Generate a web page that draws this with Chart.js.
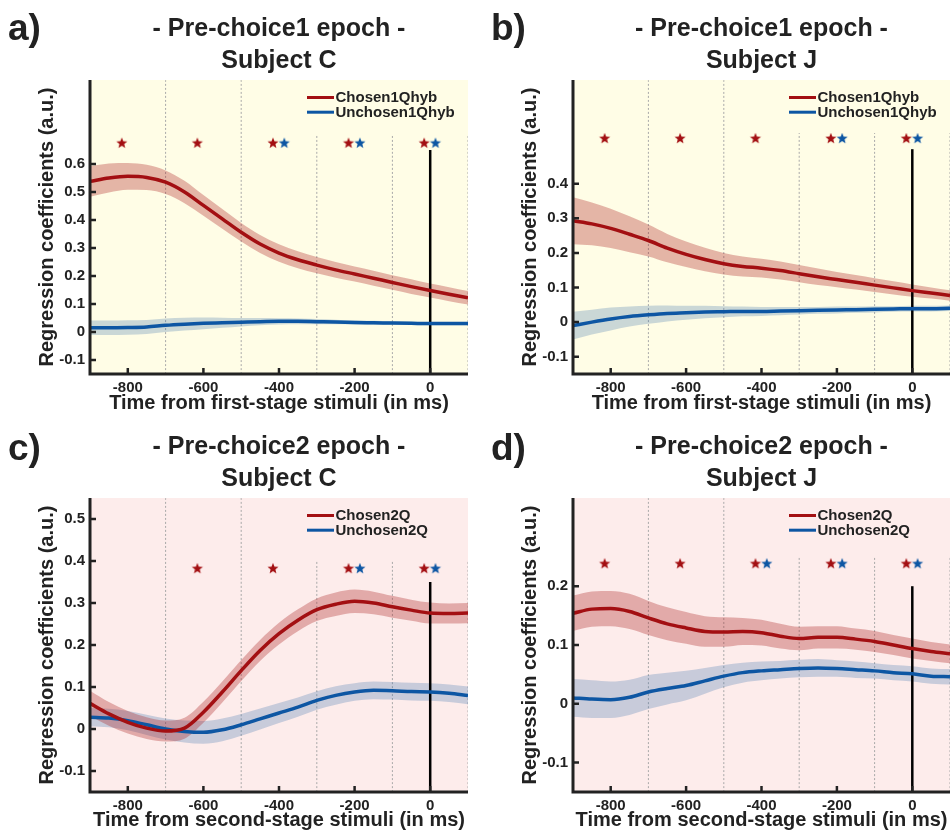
<!DOCTYPE html>
<html>
<head>
<meta charset="utf-8">
<script src="https://cdn.jsdelivr.net/npm/chart.js@4.4.0/dist/chart.umd.min.js"></script>
<style>
  body { margin: 0; background: #fff; width: 950px; height: 835px; position: relative; overflow: hidden; }
  .panel { position: absolute; }
  .panel canvas { display: block; }
</style>
</head>
<body>
<div class="panel" style="left:0;top:0"><canvas id="chartA" width="475" height="418"></canvas></div>
<div class="panel" style="left:475px;top:0"><canvas id="chartB" width="475" height="418"></canvas></div>
<div class="panel" style="left:0;top:418px"><canvas id="chartC" width="475" height="417"></canvas></div>
<div class="panel" style="left:475px;top:418px"><canvas id="chartD" width="475" height="417"></canvas></div>

<script>
// time axis (ms), sampled every 50 ms
const timeMs = [-900, -850, -800, -750, -700, -650, -600, -550, -500, -450, -400,
                -350, -300, -250, -200, -150, -100, -50, 0, 50, 100];

// Pre-choice1, subject C
const chosen1C     = [0.538, 0.550, 0.556, 0.552, 0.535, 0.500, 0.452, 0.404, 0.356, 0.314, 0.282,
                      0.258, 0.239, 0.222, 0.207, 0.192, 0.177, 0.162, 0.148, 0.135, 0.122];
const chosen1CErr  = [0.055, 0.052, 0.048, 0.045, 0.042, 0.040, 0.037, 0.035, 0.033, 0.032, 0.031,
                      0.030, 0.029, 0.028, 0.027, 0.027, 0.026, 0.026, 0.025, 0.025, 0.024];
const unchosen1C    = [0.015, 0.015, 0.016, 0.018, 0.024, 0.028, 0.031, 0.033, 0.035, 0.037, 0.038,
                       0.038, 0.037, 0.036, 0.034, 0.033, 0.032, 0.031, 0.030, 0.030, 0.030];
const unchosen1CErr = [0.026, 0.026, 0.026, 0.025, 0.024, 0.023, 0.021, 0.018, 0.015, 0.013, 0.011,
                       0.010, 0.009, 0.008, 0.007, 0.007, 0.006, 0.006, 0.006, 0.006, 0.006];

// Pre-choice1, subject J
const chosen1J     = [0.293, 0.284, 0.271, 0.254, 0.236, 0.214, 0.196, 0.181, 0.169, 0.161, 0.156,
                      0.149, 0.140, 0.131, 0.123, 0.115, 0.107, 0.099, 0.091, 0.084, 0.077];
const chosen1JErr  = [0.068, 0.062, 0.057, 0.052, 0.046, 0.041, 0.037, 0.034, 0.031, 0.029, 0.027,
                      0.026, 0.025, 0.024, 0.022, 0.021, 0.020, 0.019, 0.018, 0.016, 0.015];
const unchosen1J    = [-0.010, 0.000, 0.009, 0.016, 0.021, 0.025, 0.027, 0.029, 0.030, 0.031, 0.031,
                       0.032, 0.033, 0.034, 0.035, 0.036, 0.037, 0.038, 0.039, 0.039, 0.040];
const unchosen1JErr = [0.040, 0.036, 0.033, 0.029, 0.026, 0.023, 0.020, 0.018, 0.016, 0.014, 0.013,
                       0.012, 0.011, 0.010, 0.010, 0.009, 0.009, 0.008, 0.008, 0.008, 0.008];

// Pre-choice2, subject C
const chosen2C     = [0.061, 0.036, 0.016, 0.002, -0.005, 0.002, 0.040, 0.088, 0.139, 0.187, 0.227,
                      0.259, 0.284, 0.297, 0.304, 0.300, 0.291, 0.283, 0.276, 0.275, 0.276];
const chosen2CErr  = [0.030, 0.028, 0.027, 0.026, 0.025, 0.025, 0.025, 0.025, 0.025, 0.025, 0.026,
                      0.026, 0.027, 0.028, 0.028, 0.027, 0.026, 0.025, 0.025, 0.024, 0.024];
const unchosen2C    = [0.028, 0.026, 0.020, 0.010, 0.000, -0.006, -0.008, -0.002, 0.010, 0.024, 0.038,
                       0.052, 0.068, 0.080, 0.088, 0.092, 0.091, 0.089, 0.088, 0.085, 0.080];
const unchosen2CErr = [0.022, 0.022, 0.023, 0.024, 0.025, 0.026, 0.027, 0.027, 0.026, 0.025, 0.024,
                       0.023, 0.022, 0.022, 0.021, 0.021, 0.021, 0.021, 0.021, 0.021, 0.021];

// Pre-choice2, subject J
const chosen2J     = [0.154, 0.161, 0.162, 0.157, 0.146, 0.136, 0.129, 0.123, 0.122, 0.123, 0.121,
                      0.115, 0.111, 0.113, 0.113, 0.110, 0.106, 0.100, 0.094, 0.089, 0.085];
const chosen2JErr  = [0.030, 0.030, 0.030, 0.030, 0.029, 0.028, 0.027, 0.026, 0.025, 0.023, 0.022,
                      0.021, 0.020, 0.019, 0.019, 0.018, 0.018, 0.017, 0.017, 0.016, 0.016];
const unchosen2J    = [0.010, 0.008, 0.007, 0.011, 0.020, 0.026, 0.031, 0.039, 0.047, 0.053, 0.056,
                       0.058, 0.060, 0.061, 0.060, 0.058, 0.056, 0.053, 0.051, 0.047, 0.046];
const unchosen2JErr = [0.032, 0.032, 0.031, 0.030, 0.029, 0.027, 0.025, 0.022, 0.019, 0.017, 0.016,
                       0.015, 0.015, 0.015, 0.014, 0.014, 0.013, 0.013, 0.013, 0.013, 0.013];

// 200 ms analysis windows and significance flags (1 = star)
const windowMs = [-800, -600, -400, -200, 0];
const sigChosen1C   = [1, 1, 1, 1, 1];
const sigUnchosen1C = [0, 0, 1, 1, 1];
const sigChosen1J   = [1, 1, 1, 1, 1];
const sigUnchosen1J = [0, 0, 0, 1, 1];
const sigChosen2C   = [0, 1, 1, 1, 1];
const sigUnchosen2C = [0, 0, 0, 1, 1];
const sigChosen2J   = [1, 1, 1, 1, 1];
const sigUnchosen2J = [0, 0, 1, 1, 1];

// window borders
const windowEdges = [-700, -500, -300, -100, 100];

const xTicks = [-800, -600, -400, -200, 0];
const yTicksA = [-0.1, 0, 0.1, 0.2, 0.3, 0.4, 0.5, 0.6];
const yTicksB = [-0.1, 0, 0.1, 0.2, 0.3, 0.4];
const yTicksC = [-0.1, 0, 0.1, 0.2, 0.3, 0.4, 0.5];
const yTicksD = [-0.1, 0, 0.1, 0.2];

const RED = '#a30f12';
const BLUE = '#0d56a3';
const RED_BAND = 'rgba(170, 30, 30, 0.32)';
const BLUE_BAND = 'rgba(50, 110, 170, 0.26)';
const INK = '#222';
const FONT = '"Liberation Sans", Arial, Helvetica, sans-serif';

Chart.defaults.font.family = FONT;
Chart.defaults.color = INK;

function starImage(color) {
   const c = document.createElement('canvas');
   c.width = 14; c.height = 14;
   const g = c.getContext('2d');
   g.fillStyle = color;
   g.beginPath();
   for (let i = 0; i < 10; i++) {
      const r = i % 2 ? 2.5 : 5.8;
      const ang = -Math.PI / 2 + i * Math.PI / 5;
      const px = 7 + r * Math.cos(ang), py = 7.5 + r * Math.sin(ang);
      if (i) g.lineTo(px, py); else g.moveTo(px, py);
   }
   g.closePath();
   g.fill();
   return c;
}
const redStar = starImage(RED);
const blueStar = starImage(BLUE);

// mean line plus shaded error band (upper fills down to lower)
function seriesSets(mean, err, color, band) {
   return [
      { data: timeMs.map((t, i) => ({ x: t, y: mean[i] })), borderColor: color, borderWidth: 3.5, fill: false, order: 0 },
      { data: timeMs.map((t, i) => ({ x: t, y: mean[i] + err[i] })), borderWidth: 0, borderColor: 'transparent', backgroundColor: band, fill: '+1', order: 2 },
      { data: timeMs.map((t, i) => ({ x: t, y: mean[i] - err[i] })), borderWidth: 0, borderColor: 'transparent', fill: false, order: 2 }
   ];
}

function starSet(sig, offset, rowY, img) {
   return {
      data: windowMs.filter((w, i) => sig[i]).map(w => ({ x: w + offset, y: rowY })),
      showLine: false, pointStyle: img, pointRadius: 5, order: 0
   };
}

// background, legend box, axes with inward ticks, panel letter
const panelDecor = {
   id: 'panelDecor',
   beforeDraw(chart, args, o) {
      const { ctx, chartArea: a } = chart;
      ctx.save();
      ctx.fillStyle = o.plotBg;
      ctx.fillRect(a.left, a.top, a.right - a.left, a.bottom - a.top);
      ctx.restore();
   },
   afterDatasetsDraw(chart, args, o) {
      const { ctx, chartArea: a } = chart;
      ctx.save();
      ctx.fillStyle = o.plotBg;
      ctx.fillRect(a.right - 168, a.top, 168, o.legendH);
      ctx.font = 'bold 15px ' + FONT;
      ctx.textBaseline = 'middle';
      o.legend.forEach((item, i) => {
         const y = a.top + 17.5 + i * 14.7;
         ctx.strokeStyle = item.color;
         ctx.lineWidth = 3;
         ctx.beginPath();
         ctx.moveTo(a.right - 161, y);
         ctx.lineTo(a.right - 134, y);
         ctx.stroke();
         ctx.fillStyle = INK;
         ctx.fillText(item.label, a.right - 132.5, y + 0.5);
      });
      ctx.restore();
   },
   afterDraw(chart, args, o) {
      const { ctx, chartArea: a, scales } = chart;
      ctx.save();
      ctx.strokeStyle = INK;
      ctx.lineWidth = 2.5;
      ctx.beginPath();
      scales.y.ticks.forEach(t => {
         const py = scales.y.getPixelForValue(t.value);
         ctx.moveTo(a.left, py); ctx.lineTo(a.left + 6, py);
      });
      scales.x.ticks.forEach(t => {
         const px = scales.x.getPixelForValue(t.value);
         ctx.moveTo(px, a.bottom); ctx.lineTo(px, a.bottom - 6);
      });
      ctx.stroke();
      ctx.lineWidth = 3;
      ctx.beginPath();
      ctx.moveTo(a.left, a.top);
      ctx.lineTo(a.left, a.bottom + 1.5);
      ctx.moveTo(a.left - 1.5, a.bottom);
      ctx.lineTo(a.right, a.bottom);
      ctx.stroke();
      ctx.fillStyle = INK;
      ctx.font = 'bold 37px ' + FONT;
      ctx.textBaseline = 'alphabetic';
      ctx.fillText(o.letter, o.letterX, o.letterY);
      ctx.restore();
   }
};

const tickLabel = v => String(Number(Number(v).toFixed(2)));

function makePanel(id, p) {
   const datasets = [].concat(
      seriesSets(p.chosen, p.chosenErr, RED, RED_BAND),
      seriesSets(p.unchosen, p.unchosenErr, BLUE, BLUE_BAND),
      [starSet(p.sigChosen, -16, p.starY, redStar), starSet(p.sigUnchosen, 14, p.starY, blueStar)],
      [{ data: [{ x: 0, y: p.yMin }, { x: 0, y: p.zeroTop }], borderColor: '#000', borderWidth: 2.5, order: 1 }],
      windowEdges.map(e => ({
         data: [{ x: e, y: p.yMin }, { x: e, y: p.yMax }],
         borderColor: '#a8a8a8', borderWidth: 1, borderDash: [2, 2], order: 3
      }))
   );

   return new Chart(document.getElementById(id), {
      type: 'line',
      data: { datasets },
      plugins: [panelDecor],
      options: {
         responsive: false,
         animation: false,
         events: [],
         layout: { autoPadding: false, padding: { top: 0, left: p.padLeft, right: p.padRight, bottom: 0 } },
         elements: { point: { radius: 0 }, line: { cubicInterpolationMode: 'monotone' } },
         scales: {
            x: {
               type: 'linear', min: -900, max: 100,
               grid: { display: true, drawOnChartArea: false, drawTicks: false, color: 'transparent' },
               border: { display: false },
               afterBuildTicks: s => { s.ticks = xTicks.map(v => ({ value: v })); },
               afterFit: s => { s.height = p.xHeight; },
               ticks: { autoSkip: false, maxRotation: 0, padding: 5, color: INK, font: { size: 15, weight: 'bold' }, callback: tickLabel },
               title: { display: true, text: p.xTitle, color: INK, font: { size: 20, weight: 'bold' }, padding: { top: 0, bottom: 3 } }
            },
            y: {
               type: 'linear', min: p.yMin, max: p.yMax,
               grid: { display: true, drawOnChartArea: false, drawTicks: false, color: 'transparent' },
               border: { display: false },
               afterBuildTicks: s => { s.ticks = p.yTicks.map(v => ({ value: v })); },
               afterFit: s => { s.width = p.yWidth; },
               ticks: { autoSkip: false, padding: 5, color: INK, font: { size: 15, weight: 'bold' }, callback: tickLabel },
               title: { display: true, text: 'Regression coefficients (a.u.)', color: INK, font: { size: 20, weight: 'bold' }, padding: { top: 0, bottom: 0 } }
            }
         },
         plugins: {
            legend: { display: false },
            tooltip: { enabled: false },
            title: {
               display: true, fullSize: false, text: p.title, color: INK,
               font: { size: 25, weight: 'bold', lineHeight: 32 / 25 },
               padding: { top: 13, bottom: 3 }
            },
            panelDecor: {
               plotBg: p.plotBg, legendH: p.legendH, legend: p.legend,
               letter: p.letter, letterX: p.letterX, letterY: p.letterY
            }
         }
      }
   });
}

const YELLOW = '#fffde6';
const PINK = '#fdeceb';

makePanel('chartA', {
   title: ['- Pre-choice1 epoch -', 'Subject C'], letter: 'a)', letterX: 8, letterY: 40,
   xTitle: 'Time from first-stage stimuli (in ms)',
   chosen: chosen1C, chosenErr: chosen1CErr, unchosen: unchosen1C, unchosenErr: unchosen1CErr,
   sigChosen: sigChosen1C, sigUnchosen: sigUnchosen1C, starY: 0.676, zeroTop: 0.65,
   yMin: -0.15, yMax: 0.9, yTicks: yTicksA,
   padLeft: 35, padRight: 7, yWidth: 55, xHeight: 44,
   plotBg: YELLOW, legendH: 55,
   legend: [{ label: 'Chosen1Qhyb', color: RED }, { label: 'Unchosen1Qhyb', color: BLUE }]
});

makePanel('chartB', {
   title: ['- Pre-choice1 epoch -', 'Subject J'], letter: 'b)', letterX: 16, letterY: 40,
   xTitle: 'Time from first-stage stimuli (in ms)',
   chosen: chosen1J, chosenErr: chosen1JErr, unchosen: unchosen1J, unchosenErr: unchosen1JErr,
   sigChosen: sigChosen1J, sigUnchosen: sigUnchosen1J, starY: 0.532, zeroTop: 0.5,
   yMin: -0.15, yMax: 0.7, yTicks: yTicksB,
   padLeft: 43, padRight: 0, yWidth: 55, xHeight: 44,
   plotBg: YELLOW, legendH: 53,
   legend: [{ label: 'Chosen1Qhyb', color: RED }, { label: 'Unchosen1Qhyb', color: BLUE }]
});

makePanel('chartC', {
   title: ['- Pre-choice2 epoch -', 'Subject C'], letter: 'c)', letterX: 8, letterY: 42,
   xTitle: 'Time from second-stage stimuli (in ms)',
   chosen: chosen2C, chosenErr: chosen2CErr, unchosen: unchosen2C, unchosenErr: unchosen2CErr,
   sigChosen: sigChosen2C, sigUnchosen: sigUnchosen2C, starY: 0.383, zeroTop: 0.35,
   yMin: -0.15, yMax: 0.55, yTicks: yTicksC,
   padLeft: 35, padRight: 7, yWidth: 55, xHeight: 43,
   plotBg: PINK, legendH: 63,
   legend: [{ label: 'Chosen2Q', color: RED }, { label: 'Unchosen2Q', color: BLUE }]
});

makePanel('chartD', {
   title: ['- Pre-choice2 epoch -', 'Subject J'], letter: 'd)', letterX: 16, letterY: 42,
   xTitle: 'Time from second-stage stimuli (in ms)',
   chosen: chosen2J, chosenErr: chosen2JErr, unchosen: unchosen2J, unchosenErr: unchosen2JErr,
   sigChosen: sigChosen2J, sigUnchosen: sigUnchosen2J, starY: 0.239, zeroTop: 0.2,
   yMin: -0.15, yMax: 0.35, yTicks: yTicksD,
   padLeft: 43, padRight: 0, yWidth: 55, xHeight: 43,
   plotBg: PINK, legendH: 59,
   legend: [{ label: 'Chosen2Q', color: RED }, { label: 'Unchosen2Q', color: BLUE }]
});
</script>
</body>
</html>
